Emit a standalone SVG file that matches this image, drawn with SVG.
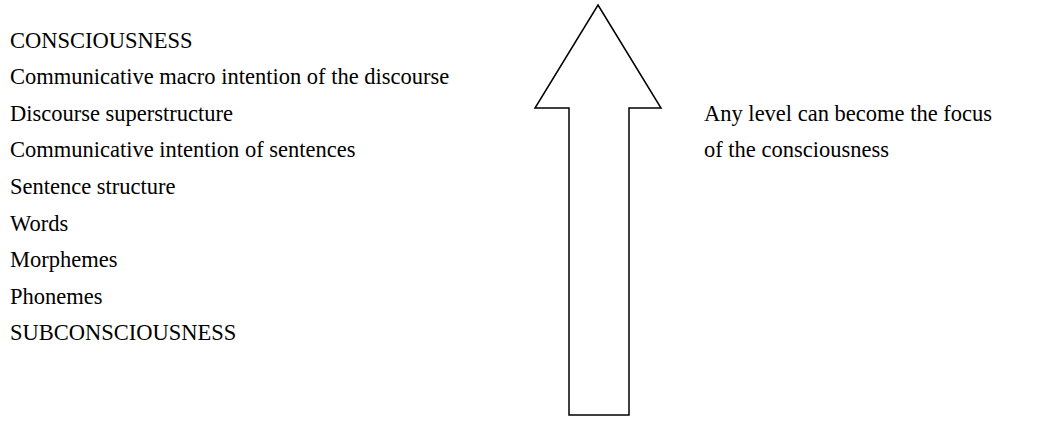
<svg xmlns="http://www.w3.org/2000/svg" width="1053" height="421" viewBox="0 0 1053 421">
<style>
text{font-family:"Liberation Serif","Times New Roman",serif;font-size:22.5px;fill:#000}
.arrow{fill:#fff;stroke:#000;stroke-width:1.5;stroke-linejoin:miter}
</style>
<rect width="1053" height="421" fill="#fff"/>
<g id="levels">
<text x="10" y="47.5">CONSCIOUSNESS</text>
<text x="10" y="84.1">Communicative macro intention of the discourse</text>
<text x="10" y="120.7">Discourse superstructure</text>
<text x="10" y="157.3">Communicative intention of sentences</text>
<text x="10" y="193.9">Sentence structure</text>
<text x="10" y="230.5">Words</text>
<text x="10" y="267.1">Morphemes</text>
<text x="10" y="303.7">Phonemes</text>
<text x="10" y="340.3">SUBCONSCIOUSNESS</text>
</g>
<g id="connectors">
<polygon class="arrow" points="598,5 661,108 629,108 629,415 569,415 569,108 535,108"/>
</g>
<g id="note">
<text x="704" y="120.7">Any level can become the focus</text>
<text x="704" y="157.3">of the consciousness</text>
</g>
</svg>
